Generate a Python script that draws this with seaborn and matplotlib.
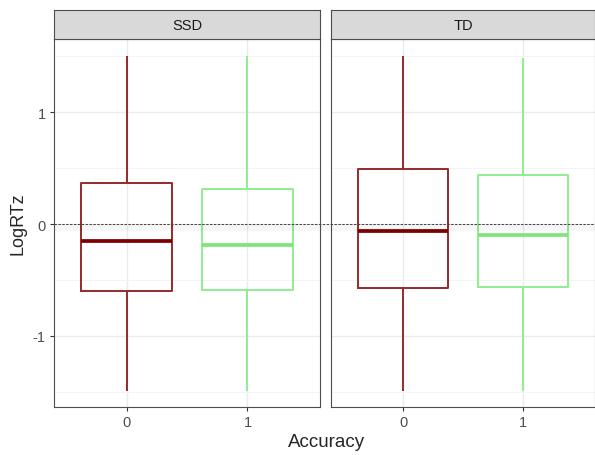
import matplotlib
matplotlib.use("Agg")
import matplotlib.pyplot as plt
import matplotlib.transforms as mtransforms
from matplotlib.lines import Line2D
import numpy as np
import pandas as pd
import seaborn as sns

# Five-number summaries per facet and accuracy level
groups = ["SSD", "TD"]
accuracy_levels = ["0", "1"]
lower_whisker = {"SSD": [-1.49, -1.49], "TD": [-1.49, -1.49]}
q1 = {"SSD": [-0.60, -0.59], "TD": [-0.57, -0.56]}
median = {"SSD": [-0.15, -0.19], "TD": [-0.06, -0.10]}
q3 = {"SSD": [0.365, 0.31], "TD": [0.495, 0.44]}
upper_whisker = {"SSD": [1.50, 1.50], "TD": [1.50, 1.485]}

edge_colors = {"0": "#962a2a", "1": "#8fee8f"}
median_colors = {"0": "#7d0000", "1": "#7ce67c"}

rows = []
for g in groups:
    for i, a in enumerate(accuracy_levels):
        for v in (lower_whisker[g][i], q1[g][i], median[g][i], q3[g][i], upper_whisker[g][i]):
            rows.append({"Group": g, "Accuracy": a, "LogRTz": v})
df = pd.DataFrame(rows)

sns.set_theme(style="white")
plt.rcParams["font.family"] = ["Liberation Sans", "DejaVu Sans"]

W, H = 595, 456
fig = plt.figure(figsize=(W / 100, H / 100), dpi=100)

panel_x = [(54, 320), (331, 595)]
top_px, bot_px, strip_top = 40, 408, 11
grid_major = "#ebebeb"
grid_minor = "#f4f4f4"
border = "#4d4d4d"

axes = []
for k, g in enumerate(groups):
    x0, x1 = panel_x[k]
    ax = fig.add_axes([x0 / W, 1 - bot_px / H, (x1 - x0) / W, (bot_px - top_px) / H])
    axes.append(ax)
    sub = df[df.Group == g]
    for a in accuracy_levels:
        sns.boxplot(
            data=sub[sub.Accuracy == a], x="Accuracy", y="LogRTz", order=accuracy_levels,
            color=edge_colors[a], fill=False, width=0.75, showcaps=False, whis=1.5,
            linewidth=1.4, ax=ax,
            medianprops=dict(color=median_colors[a], linewidth=2.7),
        )
    ax.set_xlim(-0.6, 1.6)
    ax.set_ylim(-1.634, 1.652)
    ax.set_yticks([-1, 0, 1])
    ax.set_yticks([-1.5, -0.5, 0.5, 1.5], minor=True)
    ax.set_yticklabels(["-1", "0", "1"])
    ax.grid(True, which="major", color=grid_major, linewidth=1.0)
    ax.grid(True, which="minor", axis="y", color=grid_minor, linewidth=0.7)
    ax.set_axisbelow(True)
    ax.set_xlabel("")
    ax.set_ylabel("")
    for s in ax.spines.values():
        s.set_color(border)
        s.set_linewidth(0.8)
    ax.tick_params(axis="both", which="major", length=3, width=0.8, color="#333333",
                   labelsize=10.5, labelcolor="#4d4d4d", pad=3, bottom=True, left=(k == 0))
    ax.tick_params(axis="both", which="minor", length=0)
    if k == 1:
        ax.set_yticklabels([])

    # facet strip
    sax = fig.add_axes([x0 / W, 1 - top_px / H, (x1 - x0) / W, (top_px - strip_top) / H])
    sax.set_facecolor("#d9d9d9")
    sax.set_xticks([])
    sax.set_yticks([])
    for s in sax.spines.values():
        s.set_color(border)
        s.set_linewidth(0.8)
    sax.text(0.5, 0.5, g, ha="center", va="center", fontsize=10.5, color="#1a1a1a",
             transform=sax.transAxes)

# dashed reference line at zero running across both panels (drawn above all axes)
tr = mtransforms.blended_transform_factory(fig.transFigure, axes[0].transData)
shadow = mtransforms.offset_copy(tr, fig=fig, x=0, y=-3, units="dots")
x_span = [panel_x[0][0] / W, 1.0]
fig.add_artist(Line2D(x_span, [0, 0], transform=shadow, color="black", alpha=0.035,
                      linewidth=5, solid_capstyle="butt", zorder=4))
fig.add_artist(Line2D(x_span, [0, 0], transform=tr, color="#444444", linewidth=0.7,
                      linestyle=(0, (2.5, 1.5)), zorder=5))

fig.text(326.5 / W, 1 - 443 / H, "Accuracy", ha="center", va="center", fontsize=13.5)
fig.text(18 / W, 1 - 224 / H, "LogRTz", ha="center", va="center", rotation=90, fontsize=13)

fig.savefig("out.png", dpi=100)
